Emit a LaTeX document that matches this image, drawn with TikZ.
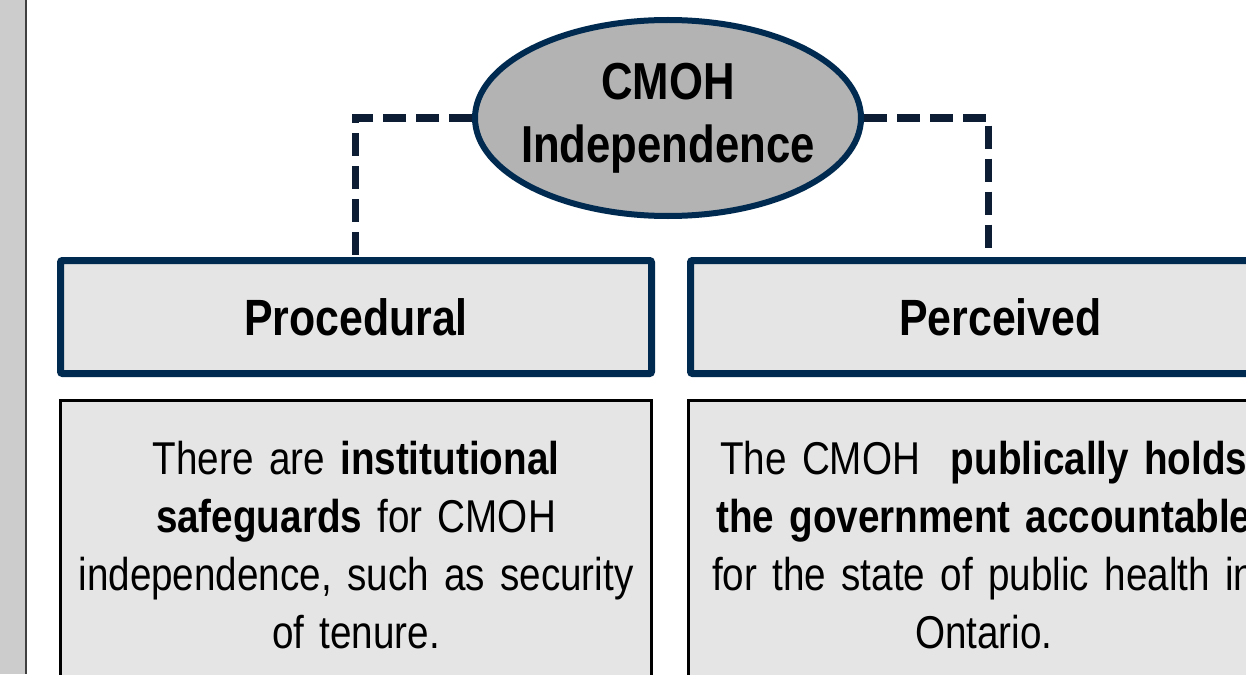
\documentclass[tikz,border=0pt]{standalone}
\usepackage{fontspec}
\setmainfont{Liberation Sans}[FakeStretch=0.84]
\usetikzlibrary{positioning,shapes.geometric,backgrounds}
\pgfdeclarelayer{bg}
\pgfsetlayers{bg,main}
\usepackage{xcolor}
\definecolor{navy}{HTML}{002A50}
\definecolor{darknavy}{HTML}{0C1D34}
\definecolor{boxgray}{HTML}{E5E5E5}
\definecolor{ovalgray}{HTML}{B3B3B3}
\definecolor{stripgray}{HTML}{CCCCCC}

\begin{document}
\begin{tikzpicture}[
  x=1pt, y=1pt,
  node distance=32pt,
  oval/.style={ellipse, draw=navy, line width=6pt, fill=ovalgray, minimum width=386pt, minimum height=196pt, inner xsep=-12pt, inner ysep=0pt, align=center, font=\fontsize{52}{63}\selectfont\bfseries},
  head/.style={draw=navy, line width=7pt, rounded corners=2pt, fill=boxgray, minimum width=591pt, minimum height=113pt, font=\fontsize{51}{60}\selectfont\bfseries},
  desc/.style={draw=black, line width=2.5pt, fill=boxgray, minimum width=591pt, minimum height=289pt, text width=570pt, align=center, font=\fontsize{46}{58}\selectfont},
  link/.style={draw=darknavy, line width=7pt, dash pattern=on 23pt off 10pt}
]
\useasboundingbox (0,0) rectangle (1246,-674);
\clip (0,0) rectangle (1246,-674);

\node[oval] (cmoh) at (668,-118) {CMOH\\Independence};
\node[head] (proc) at (356,-317) {Procedural};
\node[head, minimum width=620pt, right=of proc] (perc) {Perceived};
\node[desc, below=22pt of proc] (procdesc) {There are \textbf{institutional}\\\textbf{safeguards} for CMOH\\independence, such as security\\of tenure.};
\node[desc, below=22pt of perc.south west, anchor=north west] (percdesc) {The CMOH\ \ \textbf{publically holds}\\\textbf{the government accountable}\\for the state of public health in\\Ontario.};

\begin{pgfonlayer}{bg}
\fill[white] (0,0) rectangle (1246,-674);
% side margin
\fill[stripgray] (0,0) rectangle (25,-674);
\draw[line width=2pt, black!75] (26,0) -- (26,-674);
\draw[link] (cmoh.west) -| ([xshift=-1pt]proc.north);
\draw[link] (cmoh.east) -| ([xshift=-12pt]perc.north);
\end{pgfonlayer}
\end{tikzpicture}
\end{document}
